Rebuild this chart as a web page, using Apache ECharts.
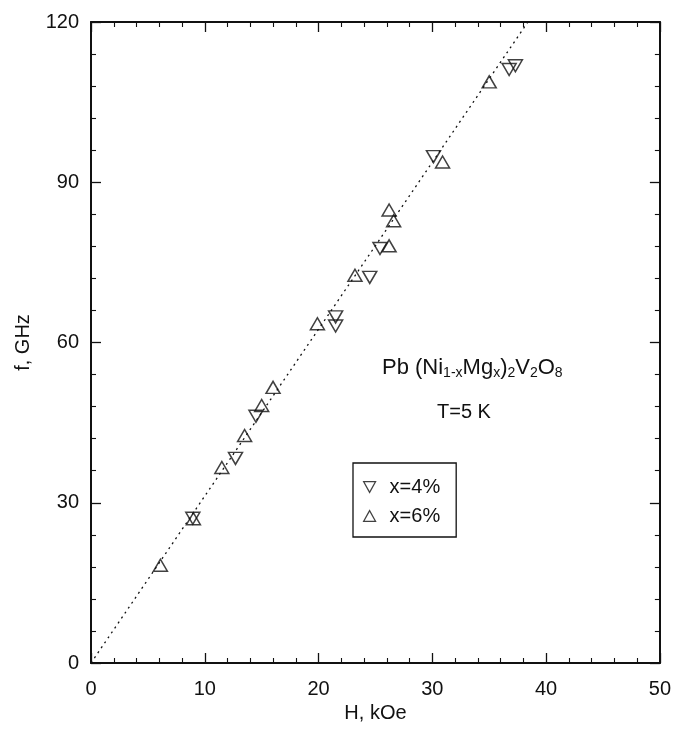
<!DOCTYPE html>
<html>
<head>
<meta charset="utf-8">
<script src="https://cdn.jsdelivr.net/npm/echarts@6/dist/echarts.min.js"></script>
<style>
html, body { margin: 0; padding: 0; background: #fff; }
#chart { width: 674px; height: 732px; }
</style>
</head>
<body>
<div id="chart"></div>
<script>
// data: [H kOe, f GHz]
var x4 = [
    [8.95, 27.1], [12.7, 38.3], [14.5, 46.2], [21.5, 64.8], [21.5, 63.1],
    [24.5, 72.2], [25.4, 77.6], [30.1, 94.8], [36.75, 111.1], [37.3, 111.8]
];
var x6 = [
    [6.1, 18.3], [9.0, 27.0], [11.5, 36.6], [13.5, 42.6], [15.0, 48.2],
    [16.0, 51.6], [19.9, 63.5], [23.2, 72.6], [26.2, 78.1], [26.2, 84.8],
    [26.6, 82.8], [30.9, 93.8], [35.0, 108.8]
];
var fitLine = [[0, 0], [38.4, 120]];
var seriesNames = ['x=4%', 'x=6%'];

var chart = echarts.init(document.getElementById('chart'));

var font = 'Liberation Sans, Arial, sans-serif';
var ink = '#111';
var markStyle = { color: 'rgba(0,0,0,0)', borderColor: ink, borderWidth: 1.5 };

function frameAxis(pos, isX, showLabel) {
    return {
        type: 'value',
        position: pos,
        min: 0,
        max: isX ? 50 : 120,
        interval: isX ? 10 : 30,
        axisLine: { show: true, onZero: false, lineStyle: { color: ink, width: 2 } },
        axisTick: { show: true, inside: true, length: 10, lineStyle: { color: ink, width: 1.3 } },
        minorTick: { show: true, splitNumber: 5, length: 5, lineStyle: { color: ink, width: 1.1 } },
        splitLine: { show: false },
        axisLabel: { show: showLabel, color: ink, fontSize: 20, fontFamily: font, margin: isX ? 16 : 12 }
    };
}

var xMain = frameAxis('bottom', true, true);
xMain.name = 'H, kOe';
xMain.nameLocation = 'middle';
xMain.nameGap = 40;
xMain.nameTextStyle = { color: ink, fontSize: 20, fontFamily: font };
var yMain = frameAxis('left', false, true);
yMain.name = 'f, GHz';
yMain.nameLocation = 'middle';
yMain.nameGap = 58;
yMain.nameTextStyle = { color: ink, fontSize: 20, fontFamily: font };

option = {
    backgroundColor: '#fff',
    animation: false,
    grid: { left: 91, right: 13, top: 22, bottom: 69 },
    xAxis: [xMain, frameAxis('top', true, false)],
    yAxis: [yMain, frameAxis('right', false, false)],
    legend: {
        orient: 'vertical',
        left: 353,
        top: 463,
        padding: [14, 16, 11, 10],
        borderColor: ink,
        borderWidth: 1.3,
        itemWidth: 12,
        itemHeight: 11,
        itemGap: 9,
        itemStyle: { color: 'rgba(0,0,0,0)', borderColor: ink, borderWidth: 1.2 },
        textStyle: { color: ink, fontSize: 20, fontFamily: font, padding: [0, 0, 0, 9] },
        data: [
            { name: seriesNames[0], icon: 'path://M0,0L10,0L5,9Z' },
            { name: seriesNames[1], icon: 'path://M5,0L10,9L0,9Z' }
        ]
    },
    graphic: [
        {
            type: 'text',
            left: 382,
            top: 357,
            style: {
                text: 'Pb (Ni{s|1-x}Mg{s|x}){s|2}V{s|2}O{s|8}',
                font: '22px ' + font,
                fill: ink,
                rich: {
                    s: { fontSize: 14, fontFamily: font, fill: ink, padding: [11, 0, 0, 0] }
                }
            }
        },
        {
            type: 'text',
            left: 437,
            top: 402,
            style: { text: 'T=5 K', font: '20px ' + font, fill: ink }
        }
    ],
    series: [
        {
            type: 'line',
            data: fitLine,
            symbol: 'none',
            silent: true,
            lineStyle: { color: ink, width: 1.3, type: [2, 4] }
        },
        {
            name: seriesNames[0],
            type: 'scatter',
            data: x4,
            symbol: 'triangle',
            symbolRotate: 180,
            symbolSize: [14, 12],
            itemStyle: markStyle
        },
        {
            name: seriesNames[1],
            type: 'scatter',
            data: x6,
            symbol: 'triangle',
            symbolSize: [14, 12],
            itemStyle: markStyle
        }
    ]
};

chart.setOption(option);
</script>
</body>
</html>
